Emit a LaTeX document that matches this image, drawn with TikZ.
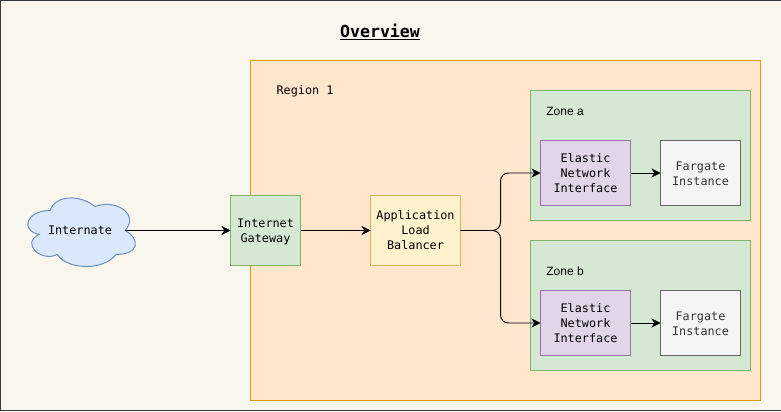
\documentclass[tikz,border=0pt]{standalone}
\usepackage{fontspec}
\setmainfont{Liberation Sans}
\setmonofont{DejaVu Sans Mono}
\definecolor{ovbg}{HTML}{F9F7ED}
\definecolor{ovdark}{HTML}{36393D}
\definecolor{ovorange}{HTML}{FFE6CC}
\definecolor{ovorangedk}{HTML}{D79B00}
\definecolor{ovgreen}{HTML}{D5E8D4}
\definecolor{ovgreendk}{HTML}{82B366}
\definecolor{ovyellow}{HTML}{FFF2CC}
\definecolor{ovyellowdk}{HTML}{D6B656}
\definecolor{ovpurple}{HTML}{E1D5E7}
\definecolor{ovpurpledk}{HTML}{9673A6}
\definecolor{ovgray}{HTML}{F5F5F5}
\definecolor{ovgraydk}{HTML}{666666}
\definecolor{ovblue}{HTML}{DAE8FC}
\definecolor{ovbluedk}{HTML}{6C8EBF}
\usetikzlibrary{arrows.meta,positioning,calc}
\newcommand{\ovlift}{\rule{0pt}{7.8pt}}

\begin{document}
\begin{tikzpicture}[
  every node/.style={font=\fontsize{8.4}{10.67}\selectfont\ttfamily},
  ovbox/.style={draw,line width=0.7pt,outer sep=0pt,inner sep=0pt,align=center},
  gwbox/.style={ovbox,fill=ovgreen,draw=ovgreendk,minimum width=1.75cm,minimum height=1.75cm},
  lbbox/.style={ovbox,fill=ovyellow,draw=ovyellowdk,minimum width=2.25cm,minimum height=1.75cm},
  zonebox/.style={ovbox,fill=ovgreen,draw=ovgreendk,minimum width=5.5cm,minimum height=3.25cm},
  enibox/.style={ovbox,fill=ovpurple,draw=ovpurpledk,minimum width=2.25cm,minimum height=1.625cm},
  fgbox/.style={ovbox,fill=ovgray,draw=ovgraydk,text=black!80,minimum width=2cm,minimum height=1.625cm},
  zonelabel/.style={font=\fontsize{8.54}{10.67}\selectfont\rmfamily},
  ovarrow/.style={draw=black,line width=0.7pt,-{Stealth[length=6.5pt,width=6.5pt]}},
]
  \useasboundingbox (0,0) rectangle (19.525,10.275);

  % Background
  \node[ovbox,fill=ovbg,draw=ovdark,minimum width=19.55cm,minimum height=10.25cm] (overview) at (9.7875,5.1375) {};
  \node[font=\fontsize{11.8}{14}\selectfont\ttfamily\bfseries] (title) at (9.5,9.48) {\underline{Overview}};

  % Region
  \node[ovbox,fill=ovorange,draw=ovorangedk,minimum width=12.75cm,minimum height=8.5cm] (region) at (12.6375,4.5125) {};
  \node (regionlabel) at (7.625,8.005) {Region 1};

  % Cloud
  \begin{scope}[shift={(0.5,5.5125)},x=3cm,y=-2cm]
    \draw[fill=ovblue,draw=ovbluedk,line width=0.7pt]
      (0.25,0.25) .. controls (0.05,0.25) and (0,0.5) .. (0.16,0.55)
      .. controls (0,0.66) and (0.18,0.9) .. (0.31,0.8)
      .. controls (0.4,1) and (0.7,1) .. (0.8,0.8)
      .. controls (1,0.8) and (1,0.6) .. (0.875,0.5)
      .. controls (1,0.3) and (0.8,0.1) .. (0.625,0.2)
      .. controls (0.5,0.05) and (0.3,0.05) .. (0.25,0.25) -- cycle;
    \coordinate (cloudout) at (0.875,0.5);
    \node (internate) at (0.5,0.5) {Internate};
  \end{scope}

  % Gateway and balancer
  \node[gwbox] (gateway) at (6.6375,4.5125) {\ovlift Internet\\Gateway};
  \node[lbbox] (balancer) at (10.3875,4.5125) {Application\\Load\\Balancer};
  \coordinate (split) at (12.5125,4.5125);

  % Zone a
  \node[zonebox] (zonea) at (16.0125,6.3875) {};
  \node[zonelabel] (zonealabel) at (14.125,7.5) {Zone a};
  \node[enibox] (enia) at (14.6375,5.95) {Elastic\\Network\\Interface};
  \node[fgbox] (fargatea) at (17.5125,5.95) {\ovlift Fargate\\Instance};

  % Zone b
  \node[zonebox] (zoneb) at (16.0125,2.6375) {};
  \node[zonelabel] (zoneblabel) at (14.125,3.5) {Zone b};
  \node[enibox] (enib) at (14.6375,2.2) {Elastic\\Network\\Interface};
  \node[fgbox] (fargateb) at (17.5125,2.2) {\ovlift Fargate\\Instance};

  % Connectors
  \draw[ovarrow] (cloudout) -- (gateway.west);
  \draw[ovarrow] (gateway) -- (balancer);
  \draw[ovarrow,rounded corners=0.2cm] (balancer.east) -- (split) |- (enia.west);
  \draw[ovarrow,rounded corners=0.2cm] (balancer.east) -- (split) |- (enib.west);
  \draw[ovarrow] (enia) -- (fargatea);
  \draw[ovarrow] (enib) -- (fargateb);
\end{tikzpicture}
\end{document}
